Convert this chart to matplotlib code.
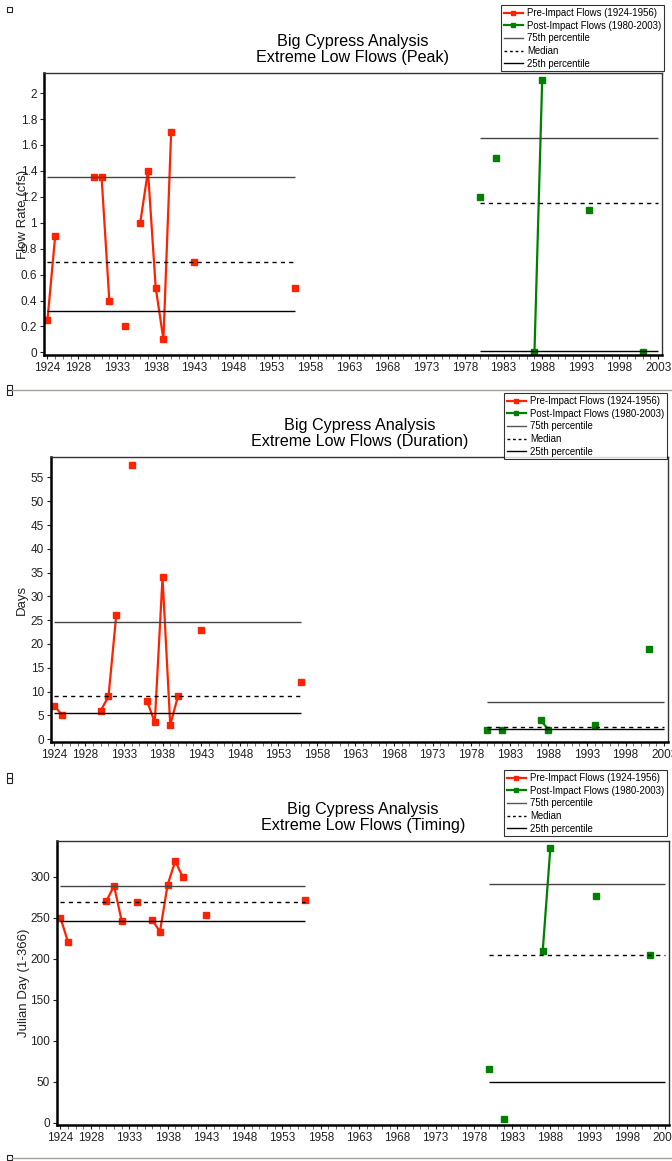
import pandas as pd
import matplotlib
matplotlib.use("Agg")
import matplotlib.pyplot as plt
from matplotlib.patches import Rectangle
from matplotlib.lines import Line2D

plt.rcParams['font.family'] = ['Liberation Sans', 'DejaVu Sans']

# --- data ---
pre_years = [1924, 1925, 1930, 1931, 1932, 1934, 1936, 1937, 1938, 1939, 1940, 1943, 1956]
post_years = [1980, 1982, 1987, 1988, 1994, 2001]

peak_pre = [0.25, 0.9, 1.35, 1.35, 0.4, 0.2, 1.0, 1.4, 0.5, 0.1, 1.7, 0.7, 0.5]
peak_post = [1.2, 1.5, 0.0, 2.1, 1.1, 0.0]
peak_pct_pre = [1.35, 0.7, 0.32]     # 75th, median, 25th
peak_pct_post = [1.65, 1.15, 0.01]

dur_pre = [7, 5, 6, 9, 26, 57.7, 8, 3.5, 34, 3, 9, 23, 12]
dur_post = [2, 2, 4, 2, 3, 19]
dur_pct_pre = [24.6, 9.1, 5.5]
dur_pct_post = [7.8, 2.6, 2.1]

tim_pre = [250, 220, 270, 289, 246, 269, 247, 233, 290, 319, 299, 253, 271]
tim_post = [66, 4, 209, 335, 276, 204]
tim_pct_pre = [289, 269, 246]
tim_pct_post = [291, 205, 50]

xtick_years = [1924, 1928, 1933, 1938, 1943, 1948, 1953, 1958, 1963, 1968,
               1973, 1978, 1983, 1988, 1993, 1998, 2003]

RED = '#ff2200'
GREEN = '#008000'

W, H = 672, 1161
fig = plt.figure(figsize=(W / 100, H / 100), dpi=100)


def px_axes(l, r, t, b):
    return fig.add_axes([l / W, 1 - b / H, (r - l) / W, (b - t) / H])


def full_series(years, vals):
    # one value per year, NaN in missing years so only consecutive years are joined
    s = pd.Series(vals, index=years, dtype=float)
    return s.reindex(range(years[0], years[-1] + 1))


def panel(ax, pre, post, pct_pre, pct_post, ylim, yticks, ytl, ylabel, ylab_x,
          subtitle, leg_box):
    sp = full_series(pre_years, pre)
    ax.plot(sp.index, sp.values, color=RED, lw=1.6, marker='s', ms=4.5,
            label='Pre-Impact Flows (1924-1956)')
    sq = full_series(post_years, post)
    ax.plot(sq.index, sq.values, color=GREEN, lw=1.6, marker='s', ms=4.5,
            label='Post-Impact Flows (1980-2003)')

    styles = [('#444444', '-'), ('black', (0, (3, 3))), ('black', '-')]
    for vals, x0, x1 in [(pct_pre, 1924, 1956), (pct_post, 1980, 2003)]:
        for v, (c, ls) in zip(vals, styles):
            ax.hlines(v, x0, x1, colors=c, linestyles=ls, lw=1.0)

    ax.set_xlim(1923.55, 2003.5)
    ax.set_ylim(*ylim)
    ax.set_xticks(xtick_years)
    ax.set_xticks(range(1924, 2004), minor=True)
    ax.set_yticks(yticks)
    ax.set_yticklabels(ytl)
    ax.tick_params(axis='both', labelsize=8.5, colors='#222222', length=3,
                   direction='out', pad=2)
    ax.tick_params(axis='x', which='minor', length=3, color='#555555')
    for s in ['left', 'bottom']:
        ax.spines[s].set_linewidth(1.8)
    for s in ['top', 'right']:
        ax.spines[s].set_linewidth(1.0)
        ax.spines[s].set_color('#333333')

    ax.set_ylabel(ylabel, fontsize=9.5, color='#222222')
    ax.yaxis.set_label_coords(ylab_x, 0.5)
    ax.set_title('Big Cypress Analysis\n' + subtitle, fontsize=11.6, pad=8,
                 linespacing=1.1)

    handles = [
        Line2D([], [], color=RED, lw=1.6, marker='s', ms=3),
        Line2D([], [], color=GREEN, lw=1.6, marker='s', ms=3),
        Line2D([], [], color='#555555', lw=1.0),
        Line2D([], [], color='black', lw=1.0, ls=(0, (2, 2))),
        Line2D([], [], color='black', lw=1.0),
    ]
    labels = ['Pre-Impact Flows (1924-1956)', 'Post-Impact Flows (1980-2003)',
              '75th percentile', 'Median', '25th percentile']
    leg = ax.legend(handles, labels, loc='upper right',
                    bbox_to_anchor=(leg_box[0] / W, 1 - leg_box[1] / H),
                    bbox_transform=fig.transFigure, fontsize=6.9,
                    frameon=True, fancybox=False, edgecolor='black',
                    borderpad=0.3, labelspacing=0.28, handlelength=2.0,
                    handletextpad=0.4, borderaxespad=0)
    leg.get_frame().set_linewidth(0.8)


ax1 = px_axes(44, 662, 73, 355)
panel(ax1, peak_pre, peak_post, peak_pct_pre, peak_pct_post,
      (-0.02, 2.155), [0, 0.2, 0.4, 0.6, 0.8, 1, 1.2, 1.4, 1.6, 1.8, 2],
      ['0', '0.2', '0.4', '0.6', '0.8', '1', '1.2', '1.4', '1.6', '1.8', '2'],
      'Flow Rate (cfs)', -0.024, 'Extreme Low Flows (Peak)', (664, 5))

ax2 = px_axes(51, 668, 457, 742)
dt = list(range(0, 60, 5))
panel(ax2, dur_pre, dur_post, dur_pct_pre, dur_pct_post,
      (-0.6, 59.3), dt, [str(v) for v in dt],
      'Days', -0.037, 'Extreme Low Flows (Duration)', (667, 393))

ax3 = px_axes(57, 669, 841, 1125)
tt = list(range(0, 301, 50))
panel(ax3, tim_pre, tim_post, tim_pct_pre, tim_pct_post,
      (-2.8, 343.5), tt, [str(v) for v in tt],
      'Julian Day (1-366)', -0.044, 'Extreme Low Flows (Timing)', (667, 770))

# separators and small marks at the left edge
for y in [390, 1158]:
    fig.add_artist(Line2D([12 / W, 1], [1 - y / H, 1 - y / H], color='#a8a39a',
                          lw=1.0, transform=fig.transFigure))
for (x, y) in [(7, 7), (7, 385), (7, 390), (7, 773), (7, 778), (7, 1155)]:
    fig.add_artist(Rectangle((x / W, 1 - (y + 5) / H), 5 / W, 5 / H,
                             fill=False, edgecolor='#222222', lw=0.8,
                             transform=fig.transFigure))

fig.savefig('out.png', dpi=100)
